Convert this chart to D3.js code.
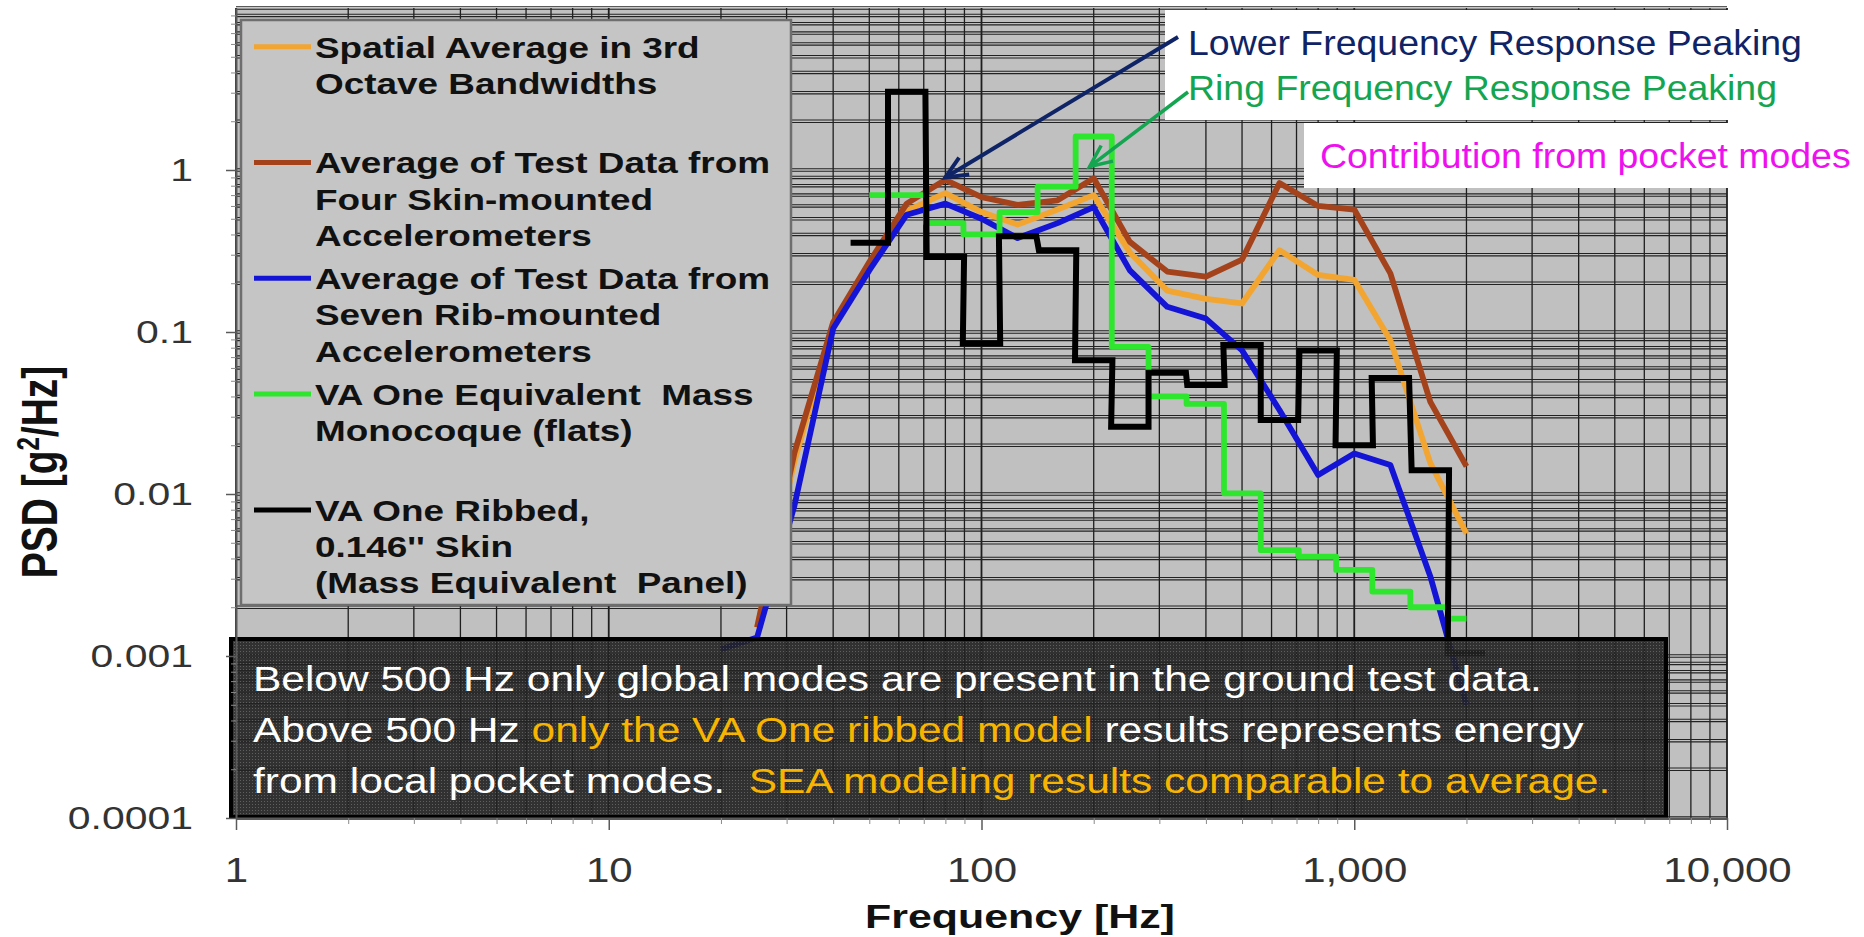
<!DOCTYPE html>
<html>
<head>
<meta charset="utf-8">
<script src="https://cdn.jsdelivr.net/npm/d3@7"></script>
<style>
body{margin:0;background:#fff}
svg{display:block;font-family:"Liberation Sans",Arial,Helvetica,sans-serif}
</style>
</head>
<body>
<svg id="chart" width="1864" height="937"></svg>
<script>
// third octave band centres (Hz)
var bandHz = [20,25,31.5,40,50,63,80,100,125,160,200,250,315,400,500,630,800,1000,1250,1600,2000]
var curveHz = [25,31.5,40,50,63,80,100,125,160,200,250,315,400,500,630,800,1000,1250,1600,2000]
var stepHz = [50,63,80,100,125,160,200,250,315,400,500,630,800,1000,1250,1600,2000]

// PSD values g^2/Hz
var spatialAvg = [0.0015,0.016,0.11,0.26,0.56,0.72,0.55,0.46,0.57,0.70,0.31,0.18,0.16,0.15,0.32,0.225,0.21,0.089,0.0155,0.0057]
var skinAvg = [0.0015,0.018,0.115,0.27,0.62,0.87,0.68,0.61,0.65,0.89,0.36,0.236,0.22,0.28,0.83,0.60,0.57,0.23,0.037,0.0148]
var ribAvg = [0.0011,0.0013,0.0085,0.105,0.24,0.53,0.62,0.50,0.38,0.47,0.59,0.24,0.143,0.121,0.077,0.033,0.0131,0.0178,0.0151,0.0031,0.0005]
var monocoque = [0.70,0.70,0.47,0.40,0.55,0.79,1.61,0.081,0.040,0.036,0.0101,0.0045,0.0041,0.0034,0.0025,0.0020,0.0017]
var ribbed = [0.356,3.04,0.29,0.085,0.39,0.32,0.067,0.026,0.056,0.047,0.083,0.0286,0.077,0.020,0.052,0.014,0.00104]

var xTickValues = [1,10,100,1000,10000]
var xTickLabels = ["1","10","100","1,000","10,000"]
var yTickValues = [0.0001,0.001,0.01,0.1,1]
var yTickLabels = ["0.0001","0.001","0.01","0.1","1"]

var legendLabels = [
    ["Spatial Average in 3rd","Octave Bandwidths"],
    ["Average of Test Data from","Four Skin-mounted","Accelerometers"],
    ["Average of Test Data from","Seven Rib-mounted","Accelerometers"],
    ["VA One Equivalent  Mass","Monocoque (flats)"],
    ["VA One Ribbed,","0.146'' Skin","(Mass Equivalent  Panel)"]
]
var colors = ["#f2a531","#a4431b","#1414d6","#2ee62e","#000000"]

var noteLines = [
    [["Below 500 Hz only global modes are present in the ground test data.","#fff"]],
    [["Above 500 Hz ","#fff"],["only the VA One ribbed model","#f7b400"],[" results represents energy","#fff"]],
    [["from local pocket modes.  ","#fff"],["SEA modeling results comparable to average.","#f7b400"]]
]

var svg = d3.select("#chart")
var x = d3.scaleLog().domain([1,10000]).range([236,1727])
var y = d3.scaleLog().domain([0.0001,10]).range([818,8])
var X0 = x.range()[0], X1 = x.range()[1], Y0 = y.range()[1], Y1 = y.range()[0]

function isDecade(d){
    var l = Math.log10(d)
    return Math.abs(l-Math.round(l))<1e-9
}

// plot area
svg.append("rect").attr("x",X0).attr("y",Y0).attr("width",X1-X0).attr("height",Y1-Y0).attr("fill","#c0c0c0")

var grid = svg.append("g")
grid.selectAll(".vgrid").data(x.ticks()).enter().append("line")
    .attr("class","vgrid")
    .attr("x1",function(d){return x(d)}).attr("x2",function(d){return x(d)})
    .attr("y1",Y0).attr("y2",Y1)
    .attr("stroke","#1e1e1e")
    .attr("stroke-width",function(d){return isDecade(d)?1.8:1.3})
// horizontal lines come out doubled in the original
;[-1.2,1.2].forEach(function(off){
    grid.selectAll(".hgrid"+(off>0?"b":"a")).data(y.ticks()).enter().append("line")
        .attr("y1",function(d){return y(d)+off}).attr("y2",function(d){return y(d)+off})
        .attr("x1",X0).attr("x2",X1)
        .attr("stroke","#222")
        .attr("stroke-width",1.1)
})

// series
var line = d3.line().x(function(d){return x(d[0])}).y(function(d){return y(d[1])})
var plot = svg.append("g")

function drawCurve(hz,vals,color,curve){
    plot.append("path")
        .datum(hz.map(function(f,i){return [f,vals[i]]}))
        .attr("d",line.curve(curve||d3.curveLinear))
        .attr("fill","none").attr("stroke",color).attr("stroke-width",5.8)
        .attr("stroke-linejoin","round").attr("stroke-linecap","butt")
}
drawCurve(curveHz,spatialAvg,colors[0])
drawCurve(curveHz,skinAvg,colors[1])
drawCurve(bandHz,ribAvg,colors[2])
drawCurve(stepHz,monocoque,colors[3],d3.curveStep)

// ribbed model drawn across full band edges
var k = Math.pow(2,1/6)
var ribbedPts = []
stepHz.forEach(function(f,i){
    ribbedPts.push([f/k,ribbed[i]])
    ribbedPts.push([f*k,ribbed[i]])
})
plot.append("path").datum(ribbedPts)
    .attr("d",line.curve(d3.curveLinear))
    .attr("fill","none").attr("stroke",colors[4]).attr("stroke-width",6)
    .attr("stroke-linejoin","miter")

// legend
var leg = svg.append("g")
leg.append("rect").attr("x",241).attr("y",20).attr("width",550).attr("height",585)
    .attr("fill","#c5c5c5").attr("stroke","#6e6e6e").attr("stroke-width",2.5)
legendLabels.forEach(function(lines,i){
    var y0 = 46.7+115.8*i
    leg.append("line").attr("x1",254).attr("x2",311).attr("y1",y0).attr("y2",y0)
        .attr("stroke",colors[i]).attr("stroke-width",5)
    lines.forEach(function(t,j){
        leg.append("text")
            .attr("transform","translate(315,"+(y0+36.2*j)+") scale(1.23,1)")
            .attr("dy","0.36em")
            .attr("font-size",30).attr("font-weight","bold").attr("fill","#111")
            .style("white-space","pre")
            .text(t)
    })
})

// dark note box
var defs = svg.append("defs")
var pat = defs.append("pattern").attr("id","mesh").attr("width",3).attr("height",3).attr("patternUnits","userSpaceOnUse")
pat.append("rect").attr("width",3).attr("height",3).attr("fill","#222")
pat.append("rect").attr("width",1).attr("height",1).attr("fill","#555")
svg.append("rect").attr("x",231).attr("y",639).attr("width",1435).attr("height",178)
    .attr("fill","url(#mesh)").attr("fill-opacity",0.9)
    .attr("stroke","#000").attr("stroke-width",4)
noteLines.forEach(function(segs,i){
    var t = svg.append("text")
        .attr("transform","translate(253,"+(691+51*i)+") scale(1.18,1)")
        .attr("font-size",36).style("white-space","pre")
    segs.forEach(function(s){
        t.append("tspan").attr("fill",s[1]).text(s[0])
    })
})

// axes
function styleAxis(g){
    g.attr("font-family",null)
    g.select(".domain").attr("stroke","#5a5a5a").attr("stroke-width",2)
    g.selectAll(".tick line").attr("stroke","#5a5a5a").attr("stroke-width",1.5)
}
var xAxis = d3.axisBottom(x).tickValues(xTickValues)
    .tickFormat(function(d,i){return xTickLabels[i]})
    .tickSize(12).tickSizeOuter(0).tickPadding(27)
var gx = svg.append("g").attr("transform","translate(0,"+Y1+")").call(xAxis)
styleAxis(gx)
gx.attr("font-size",35)
gx.selectAll("text").attr("fill","#333").attr("transform","scale(1.2,1)")

var gxm = svg.append("g").attr("transform","translate(0,"+Y1+")")
    .call(d3.axisBottom(x).tickValues(x.ticks().filter(function(d){return !isDecade(d)})).tickSize(6).tickFormat(""))
gxm.select(".domain").remove()
gxm.selectAll(".tick line").attr("stroke","#8a8a8a")

var yAxis = d3.axisLeft(y).tickValues(yTickValues)
    .tickFormat(function(d,i){return yTickLabels[i]})
    .tickSize(10).tickSizeOuter(0).tickPadding(23.6)
var gy = svg.append("g").attr("transform","translate("+X0+",0)").call(yAxis)
styleAxis(gy)
gy.attr("font-size",32)
gy.selectAll("text").attr("fill","#333").attr("transform","scale(1.28,1)")

var gym = svg.append("g").attr("transform","translate("+X0+",0)")
    .call(d3.axisLeft(y).tickValues(y.ticks().filter(function(d){return !isDecade(d)})).tickSize(5).tickFormat(""))
gym.select(".domain").remove()
gym.selectAll(".tick line").attr("stroke","#8a8a8a")

// axis titles
svg.append("text").attr("transform","translate(1020,928) scale(1.3,1)")
    .attr("text-anchor","middle").attr("font-size",33).attr("font-weight","bold").attr("fill","#111")
    .text("Frequency [Hz]")
var yt = svg.append("text").attr("transform","translate(57,472) scale(1.3,1) rotate(-90)")
    .attr("text-anchor","middle").attr("font-size",39).attr("font-weight","bold").attr("fill","#111")
yt.append("tspan").text("PSD [g")
yt.append("tspan").attr("font-size",24).attr("dy",-14).text("2")
yt.append("tspan").attr("dy",14).text("/Hz]")

// annotations
svg.append("rect").attr("x",1165).attr("y",10).attr("width",699).attr("height",110).attr("fill","#fff")
svg.append("rect").attr("x",1304).attr("y",123).attr("width",560).attr("height",65).attr("fill","#fff")

function note(txt,xp,yp,color){
    svg.append("text").attr("transform","translate("+xp+","+yp+") scale(1.07,1)")
        .attr("font-size",35).attr("fill",color).text(txt)
}
note("Lower Frequency Response Peaking",1188,55,"#0f2466")
note("Ring Frequency Response Peaking",1188,100,"#14a550")
note("Contribution from pocket modes",1320,168,"#ee10ee")

function arrow(x1,y1,x2,y2,color,w){
    var a = Math.atan2(y2-y1,x2-x1), L = 24, s = 0.42
    svg.append("path").attr("d",d3.line()([[x1,y1],[x2,y2]]))
        .attr("stroke",color).attr("stroke-width",w).attr("fill","none")
    svg.append("path").attr("d",d3.line()([
            [x2-L*Math.cos(a-s),y2-L*Math.sin(a-s)],[x2,y2],[x2-L*Math.cos(a+s),y2-L*Math.sin(a+s)]]))
        .attr("stroke",color).attr("stroke-width",w).attr("fill","none").attr("stroke-linejoin","miter")
}
arrow(1178,37,x(80),y(0.9),"#0f2466",4)
arrow(1188,92,x(195),y(1.05),"#14a550",3.5)
</script>
</body>
</html>
